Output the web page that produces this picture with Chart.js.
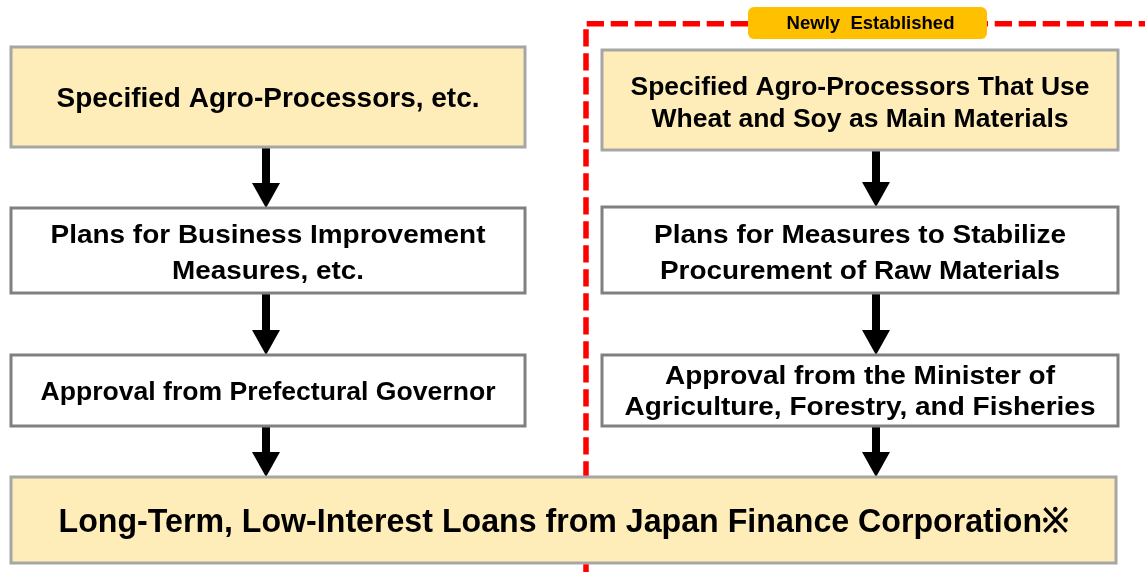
<!DOCTYPE html>
<html>
<head>
<meta charset="utf-8">
<script src="https://cdn.jsdelivr.net/npm/chart.js@4.4.1/dist/chart.umd.min.js"></script>
<style>
html,body{margin:0;padding:0;background:#fff;}
#wrap{width:1145px;height:572px;position:relative;}
</style>
</head>
<body>
<div id="wrap"><canvas id="c" width="1145" height="572"></canvas></div>
<script>
// ---- content ----
const headerText = "Overview of the Loan Scheme";
const badgeLabel = "Newly  Established";
const leftSteps = [
  ["Specified Agro-Processors, etc."],
  ["Plans for Business Improvement", "Measures, etc."],
  ["Approval from Prefectural Governor"]
];
const rightSteps = [
  ["Specified Agro-Processors That Use", "Wheat and Soy as Main Materials"],
  ["Plans for Measures to Stabilize", "Procurement of Raw Materials"],
  ["Approval from the Minister of", "Agriculture, Forestry, and Fisheries"]
];
const outcomeLabel = ["Long-Term, Low-Interest Loans from Japan Finance Corporation※"];

// ---- layout (diagram coordinates on the hidden scales) ----
const leftCol = [11, 525];
const rightCol = [602, 1118];
const leftRows = [[47, 147], [208, 293], [355, 426]];
const rightRows = [[50, 150], [207, 293], [355, 426]];
const outcomeBox = {x: [11, 1116], y: [477, 563]};
const leftArrowX = 266, rightArrowX = 876;
const leftArrows = [[147, 208], [293, 355], [426, 477]];
const rightArrows = [[150, 207], [293, 355], [426, 477]];
const badgeBox = {x: [748, 987], y: [7, 39]};
const dashCorner = {x: 586, y: 23.8};
// text styling per box: font size, line spacing, vertical offset, target widths per line
const leftText = [
  {size: 28, lh: 0, dy: 0, w: [423]},
  {size: 25, lh: 36, dy: 1.5, w: [435, 192]},
  {size: 25, lh: 0, dy: 0.5, w: [455]}
];
const rightText = [
  {size: 25, lh: 32, dy: 2, w: [459, 417]},
  {size: 25, lh: 36, dy: 2, w: [412, 400]},
  {size: 25, lh: 31, dy: 0, w: [390, 471]}
];
const outcomeText = {size: 34, lh: 0, dy: -0.5, w: [1010]};

const YELLOW = '#FFEDB9', GREY_Y = '#A6A6A6', GREY_W = '#808080';
const FONT = '"Liberation Sans", Arial, sans-serif';

const diagramPlugin = {
  id: 'diagram',
  afterDraw(chart) {
    const ctx = chart.ctx, sx = chart.scales.x, sy = chart.scales.y;
    const X = v => sx.getPixelForValue(v), Y = v => sy.getPixelForValue(v);

    // cy = vertical centre of capital letters
    function fitText(str, cx, cy, size, target) {
      ctx.save();
      ctx.font = 'bold ' + size + 'px ' + FONT;
      ctx.textAlign = 'center';
      ctx.textBaseline = 'alphabetic';
      ctx.fillStyle = '#000';
      const w = ctx.measureText(str).width;
      const k = target ? target / w : 1;
      ctx.translate(cx, cy + size * 0.716 / 2);
      ctx.scale(k, 1);
      ctx.fillText(str, 0, 0);
      ctx.restore();
    }
    function box(xr, yr, fill, stroke, lines, t) {
      const x0 = X(xr[0]), x1 = X(xr[1]), y0 = Y(yr[0]), y1 = Y(yr[1]);
      ctx.save();
      ctx.fillStyle = fill;
      ctx.fillRect(x0, y0, x1 - x0, y1 - y0);
      ctx.lineWidth = 3;
      ctx.strokeStyle = stroke;
      ctx.strokeRect(x0, y0, x1 - x0, y1 - y0);
      ctx.restore();
      const cx = (x0 + x1) / 2, cy = (y0 + y1) / 2 + t.dy;
      const n = lines.length;
      lines.forEach((s, i) => {
        fitText(s, cx, cy + (i - (n - 1) / 2) * t.lh, t.size, t.w[i]);
      });
    }
    function arrow(x, ya, yb) {
      const px = X(x), p0 = Y(ya), p1 = Y(yb);
      const headL = 25, headW = 28, shaft = 8;
      ctx.save();
      ctx.fillStyle = '#000';
      ctx.fillRect(px - shaft / 2, p0, shaft, p1 - p0 - headL + 1);
      ctx.beginPath();
      ctx.moveTo(px - headW / 2, p1 - headL);
      ctx.lineTo(px + headW / 2, p1 - headL);
      ctx.lineTo(px, p1);
      ctx.closePath();
      ctx.fill();
      ctx.restore();
    }

    // header (cut off at top)
    ctx.save();
    ctx.font = 'bold 26px ' + FONT;
    ctx.fillStyle = '#999';
    ctx.textAlign = 'center';
    ctx.textBaseline = 'alphabetic';
    ctx.fillText(headerText, X(575), Y(-1.2));
    ctx.restore();

    // red dashed frame
    ctx.save();
    ctx.strokeStyle = '#FF0000';
    ctx.lineWidth = 5.5;
    ctx.setLineDash([17.3, 6.7]);
    ctx.beginPath();
    ctx.moveTo(X(dashCorner.x + 0.7), Y(dashCorner.y));
    ctx.lineTo(X(1145), Y(dashCorner.y));
    ctx.stroke();
    ctx.beginPath();
    ctx.moveTo(X(dashCorner.x), Y(29.3));
    ctx.lineTo(X(dashCorner.x), Y(572));
    ctx.stroke();
    ctx.restore();

    // badge
    ctx.save();
    ctx.fillStyle = '#FFC000';
    ctx.beginPath();
    ctx.roundRect(X(badgeBox.x[0]), Y(badgeBox.y[0]), X(badgeBox.x[1]) - X(badgeBox.x[0]), Y(badgeBox.y[1]) - Y(badgeBox.y[0]), 6);
    ctx.fill();
    ctx.restore();
    fitText(badgeLabel, X(870.5), Y(23), 17.5, 168);

    // arrows
    leftArrows.forEach(a => arrow(leftArrowX, a[0], a[1]));
    rightArrows.forEach(a => arrow(rightArrowX, a[0], a[1]));

    // boxes
    leftSteps.forEach((lines, i) => {
      box(leftCol, leftRows[i], i === 0 ? YELLOW : '#FFFFFF', i === 0 ? GREY_Y : GREY_W, lines, leftText[i]);
    });
    rightSteps.forEach((lines, i) => {
      box(rightCol, rightRows[i], i === 0 ? YELLOW : '#FFFFFF', i === 0 ? GREY_Y : GREY_W, lines, rightText[i]);
    });
    box(outcomeBox.x, outcomeBox.y, YELLOW, GREY_Y, outcomeLabel, outcomeText);
  }
};

new Chart(document.getElementById('c'), {
  type: 'scatter',
  data: {datasets: [{data: [], pointRadius: 0}]},
  options: {
    responsive: false,
    animation: false,
    layout: {padding: 0},
    plugins: {legend: {display: false}, tooltip: {enabled: false}, title: {display: false}},
    scales: {
      x: {type: 'linear', min: 0, max: 1145, display: false},
      y: {type: 'linear', min: 0, max: 572, reverse: true, display: false}
    }
  },
  plugins: [diagramPlugin]
});
</script>
</body>
</html>
